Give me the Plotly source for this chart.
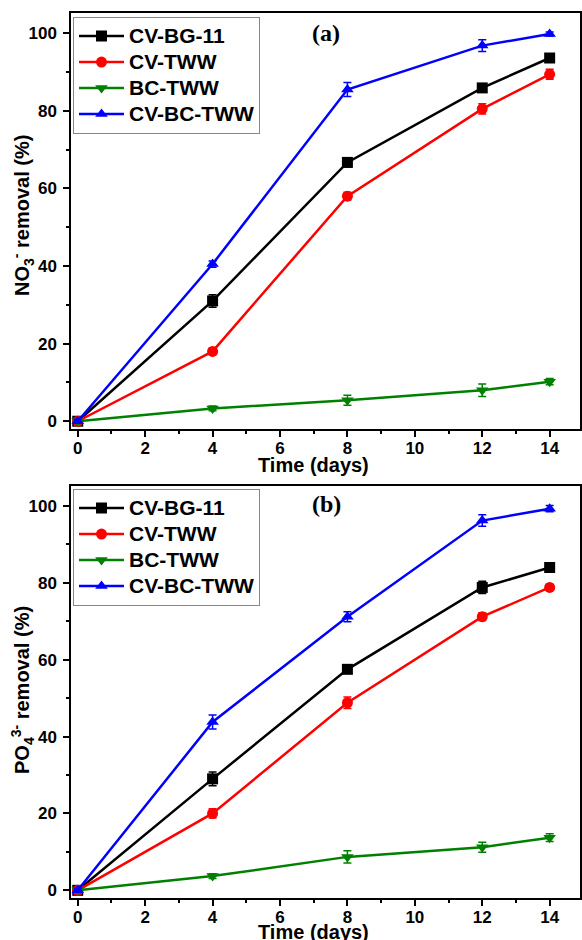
import plotly.graph_objects as go

days = [0, 4, 8, 12, 14]
series_names = ["CV-BG-11", "CV-TWW", "BC-TWW", "CV-BC-TWW"]

# Panel (a) NO3- removal (%)
no3_bg11 = [0, 31.0, 66.7, 85.9, 93.6]
no3_tww = [0, 18.0, 58.0, 80.5, 89.4]
no3_bc = [0, 3.3, 5.4, 8.0, 10.2]
no3_cvbc = [0, 40.5, 85.5, 96.8, 99.8]
no3_bg11_err = [0.5, 1.6, 1.2, 1.0, 1.0]
no3_tww_err = [0.5, 0.8, 1.0, 1.3, 1.3]
no3_bc_err = [0.3, 0.6, 1.3, 1.6, 0.8]
no3_cvbc_err = [0.5, 0.8, 1.8, 1.5, 0.5]

# Panel (b) PO4 3- removal (%)
po4_bg11 = [0, 29.0, 57.5, 78.8, 84.0]
po4_tww = [0, 20.0, 48.8, 71.2, 78.8]
po4_bc = [0, 3.7, 8.7, 11.2, 13.7]
po4_cvbc = [0, 43.8, 71.2, 96.2, 99.3]
po4_bg11_err = [0.5, 1.8, 1.0, 1.6, 1.0]
po4_tww_err = [0.5, 1.2, 1.5, 1.0, 0.8]
po4_bc_err = [0.3, 0.6, 1.6, 1.3, 1.0]
po4_cvbc_err = [0.5, 1.8, 1.3, 1.5, 0.8]

x_ticks = [0, 2, 4, 6, 8, 10, 12, 14]
y_ticks = [0, 20, 40, 60, 80, 100]

colors = ["#000000", "#FF0000", "#008000", "#0000FF"]
symbols = ["square", "circle", "triangle-down", "triangle-up"]

W, H = 582, 940
fig = go.Figure()

panels = [
    ([no3_bg11, no3_tww, no3_bc, no3_cvbc],
     [no3_bg11_err, no3_tww_err, no3_bc_err, no3_cvbc_err], "x", "y", "legend"),
    ([po4_bg11, po4_tww, po4_bc, po4_cvbc],
     [po4_bg11_err, po4_tww_err, po4_bc_err, po4_cvbc_err], "x2", "y2", "legend2"),
]

for vals, errs, xa, ya, lg in panels:
    for name, v, e, c, s in zip(series_names, vals, errs, colors, symbols):
        fig.add_trace(go.Scatter(
            x=days, y=v, name=f"<span style='font-size:21px'>{name}</span>",
            mode="lines+markers",
            line=dict(color=c, width=2.5),
            marker=dict(symbol=s, size=11, color=c),
            error_y=dict(type="data", array=e, color=c, thickness=1.5, width=4),
            xaxis=xa, yaxis=ya, legend=lg,
        ))

FAM = "Liberation Sans, Arial"
tickfont = dict(family=FAM, size=17, color="black", weight="bold")

def xax(anchor):
    return dict(
        domain=[71 / W, 580 / W], anchor=anchor, automargin=False,
        range=[-0.2, 14.9], tickvals=x_ticks,
        ticks="outside", ticklen=6, tickwidth=1.5, tickcolor="black",
        minor=dict(dtick=1, tick0=0, ticks="outside", ticklen=3, tickwidth=1.5, tickcolor="black"),
        showline=True, linecolor="black", linewidth=1.5, mirror=True,
        showgrid=False, zeroline=False, tickfont=tickfont, ticklabelstandoff=-3,
    )

def yax(domain, anchor):
    return dict(
        domain=domain, anchor=anchor, automargin=False,
        range=[-2, 105.2], tickvals=y_ticks,
        ticks="outside", ticklen=6, tickwidth=1.5, tickcolor="black",
        minor=dict(dtick=10, tick0=0, ticks="outside", ticklen=3, tickwidth=1.5, tickcolor="black"),
        showline=True, linecolor="black", linewidth=1.5, mirror=True,
        showgrid=False, zeroline=False, tickfont=tickfont, ticklabelstandoff=3,
    )

leg_common = dict(
    xanchor="left", yanchor="top", bgcolor="white",
    bordercolor="#888888", borderwidth=1,
    font=dict(family=FAM, size=17.7, weight="bold", color="black"),
    tracegroupgap=0, itemwidth=45,
)

title_font = dict(family=FAM, size=20, weight="bold", color="black")
panel_font = dict(family="Liberation Serif, Times New Roman", size=24, weight="bold", color="black")

def ann(text, x, y, font, angle=0):
    return dict(text=text, x=x / W, y=1 - y / H, xref="paper", yref="paper",
                xanchor="center", yanchor="middle", showarrow=False,
                textangle=angle, font=font)

fig.update_layout(
    width=W, height=H,
    margin=dict(l=0, r=0, t=0, b=0),
    paper_bgcolor="white", plot_bgcolor="white",
    xaxis=xax("y"),
    yaxis=yax([1 - 429 / H, 1 - 13 / H], "x"),
    xaxis2=xax("y2"),
    yaxis2=yax([1 - 898 / H, 1 - 486 / H], "x2"),
    legend=dict(x=73 / W, y=1 - 17 / H, **leg_common),
    legend2=dict(x=73 / W, y=1 - 489 / H, **leg_common),
    annotations=[
        ann("(a)", 326, 33, panel_font),
        ann("(b)", 326, 504, panel_font),
        ann("NO<sub>3</sub><sup>-</sup> removal (%)", 22, 216, title_font, -90),
        ann("PO<sub>4</sub><sup>3-</sup> removal (%)", 22, 690, title_font, -90),
        ann("Time (days)", 313, 465, title_font),
        ann("Time (days)", 313, 932, title_font),
    ],
)

fig.write_html(
    "out.html",
    config={"displayModeBar": False},
    post_script="document.body.style.margin='0';document.body.style.overflow='hidden';",
)
